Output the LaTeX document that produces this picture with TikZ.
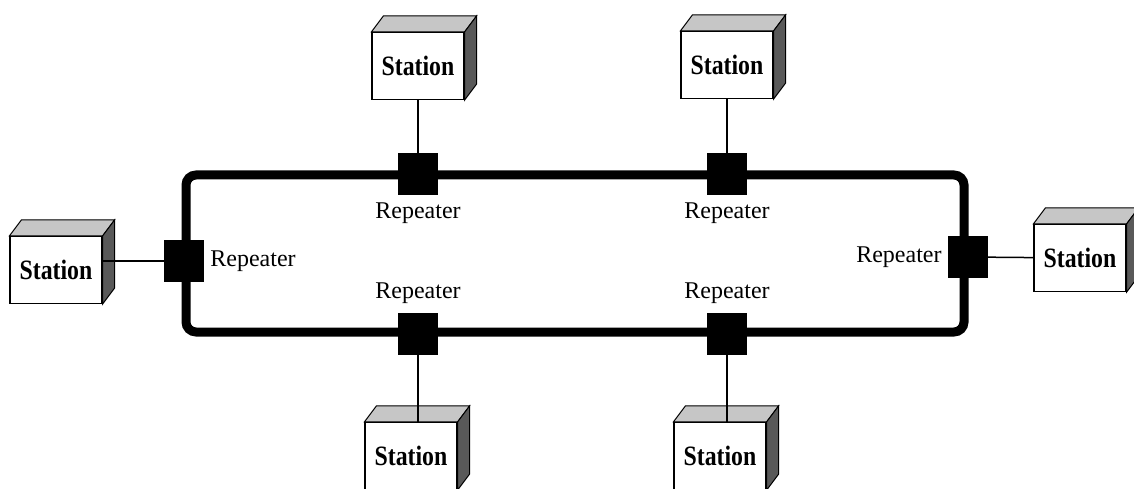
\documentclass[tikz,border=0pt]{standalone}
\usepackage{fontspec}
\setmainfont{Liberation Serif}
\newfontfamily\stnfont[FakeStretch=0.85]{Liberation Serif}
\usetikzlibrary{positioning}

\tikzset{
  station/.style={draw, line width=1.2pt, fill=white, minimum width=92pt, minimum height=67pt,
    inner sep=0pt, font=\stnfont\bfseries\fontsize{28}{30}\selectfont},
  repeater/.style={fill=black, minimum width=40pt, minimum height=42pt, inner sep=0pt},
  replabel/.style={inner sep=0pt, font=\fontsize{24}{28}\selectfont},
  link/.style={line width=1.5pt},
  ring/.style={line width=9pt, rounded corners=10pt},
  topface/.style={draw, line width=1pt, fill=gray!45},
  sideface/.style={draw, line width=1pt, fill=black!65},
}

\begin{document}
\begin{tikzpicture}[x=1pt,y=-1pt]
    \useasboundingbox (0,0) rectangle (1134,489);
    \clip (0,0) rectangle (1134,489);

    % Ring
    \draw[ring] (186,175) rectangle (964,332);

    % Repeaters on the ring
    \node[repeater] (rt1) at (418,174) {};
    \node[repeater] (rt2) at (727,174) {};
    \node[repeater] (rl) at (184,261) {};
    \node[repeater] (rr) at (968,257) {};
    \node[repeater] (rb1) at (418,334) {};
    \node[repeater] (rb2) at (727,334) {};

    \node[replabel, below=7pt of rt1] (lt1) {Repeater};
    \node[replabel, below=7pt of rt2] (lt2) {Repeater};
    \node[replabel, right=6pt of rl] (ll) {Repeater};
    \node[replabel, left=6pt of rr] (lr) {Repeater};
    \node[replabel, above=9pt of rb1] (lb1) {Repeater};
    \node[replabel, above=9pt of rb2] (lb2) {Repeater};

    % Stations
    \node[station] (st1) at (418,66) {Station};
    \node[station] (st2) at (727,65) {Station};
    \node[station] (sl) at (56,270) {Station};
    \node[station] (sr) at (1080,258) {Station};
    \node[station] (sb1) at (411,456) {Station};
    \node[station] (sb2) at (720,456) {Station};

    % 3D faces of the stations
    \foreach \s in {st1,st2,sl,sr,sb1,sb2}{
        \draw[topface] (\s.north west) -- ++(12,-16) -- ([shift={(12,-16)}]\s.north east) -- (\s.north east) -- cycle;
        \draw[sideface] (\s.north east) -- ++(12,-16) -- ([shift={(12,-16)}]\s.south east) -- (\s.south east) -- cycle;
    }

    % Station links
    \draw[link] (st1) -- (rt1);
    \draw[link] (st2) -- (rt2);
    \draw[link] (sl.east |- rl) -- (rl);
    \draw[link] (sr) -- (rr);
    \draw[link] (rb1) -- (rb1 |- sb1.north);
    \draw[link] (rb2) -- (rb2 |- sb2.north);
\end{tikzpicture}
\end{document}
